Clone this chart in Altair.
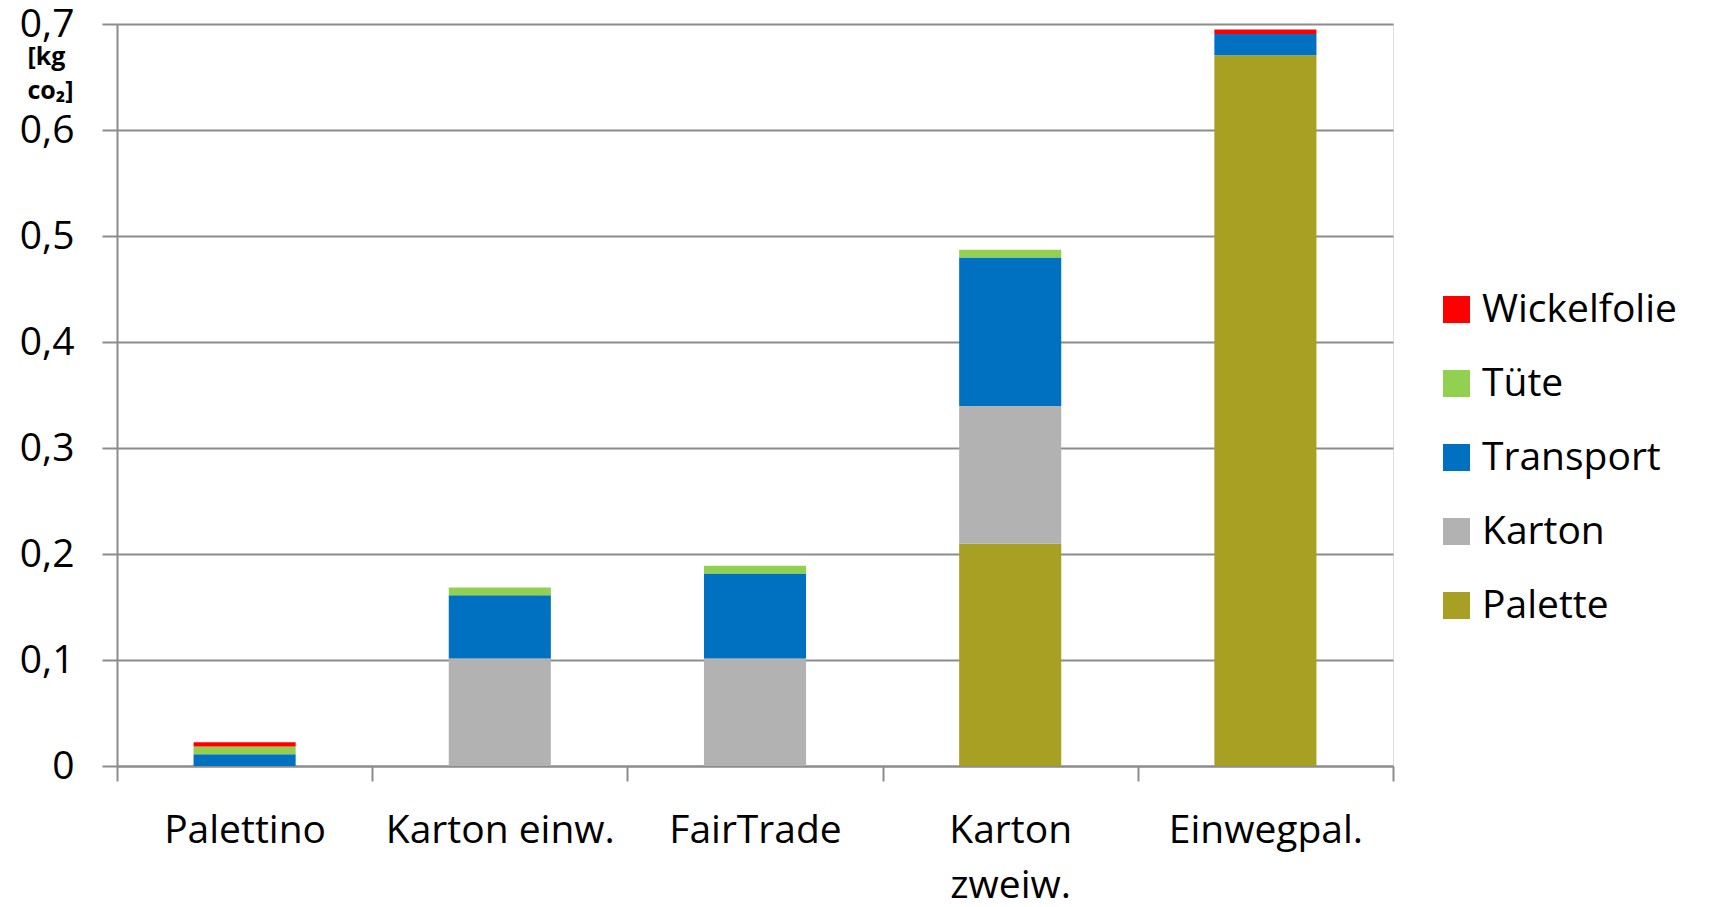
import altair as alt
import pandas as pd

categories = ["Palettino", "Karton einw.", "FairTrade", "Karton zweiw.", "Einwegpal."]
series = ["Palette", "Karton", "Transport", "Tüte", "Wickelfolie"]
palette = [0.0, 0.0, 0.0, 0.2096, 0.6705]
karton = [0.0, 0.1015, 0.1015, 0.130, 0.0]
transport = [0.011, 0.0595, 0.080, 0.140, 0.020]
tuete = [0.0075, 0.0073, 0.0073, 0.0075, 0.0]
wickelfolie = [0.004, 0.0, 0.0, 0.0, 0.0044]
colors = {"Wickelfolie": "#FF0000", "Tüte": "#92D050", "Transport": "#0070C0",
          "Karton": "#B2B2B2", "Palette": "#A8A022"}
legend_order = ["Wickelfolie", "Tüte", "Transport", "Karton", "Palette"]

values = [palette, karton, transport, tuete, wickelfolie]
rows = []
for si, (name, vals) in enumerate(zip(series, values)):
    for c, v in zip(categories, vals):
        if v > 0:
            rows.append({"Kategorie": c, "Komponente": name, "Wert": v, "idx": si})
df = pd.DataFrame(rows)

FONT = "Open Sans"
FS = 39
GRID = "#8C8C8C"

chart = alt.Chart(df).mark_bar(width=alt.RelativeBandSize(0.4)).encode(
    x=alt.X("Kategorie:N", sort=categories,
            scale=alt.Scale(paddingInner=0, paddingOuter=0),
            axis=alt.Axis(title=None, labelAngle=0, tickBand="extent",
                          labelFontSize=FS, labelFont=FONT, labelColor="#000000",
                          labelPadding=30, labelLineHeight=55, labelLimit=400,
                          labelExpr="datum.label == 'Karton zweiw.' ? ['Karton', 'zweiw.'] : datum.label",
                          domainColor=GRID, domainWidth=2, tickColor=GRID, tickWidth=2,
                          tickSize=15, grid=False)),
    y=alt.Y("Wert:Q", stack="zero",
            scale=alt.Scale(domain=[0, 0.7], nice=False),
            axis=alt.Axis(title=["[kg", "co₂]"], titleAngle=0, titleAlign="left",
                          titleBaseline="alphabetic", titleX=-90, titleY=40,
                          titleFont=FONT, titleFontSize=25, titleFontWeight="bold",
                          titleLineHeight=34, titleColor="#000000",
                          values=[0, 0.1, 0.2, 0.3, 0.4, 0.5, 0.6, 0.7],
                          labelExpr="datum.value == 0 ? '0' : replace(format(datum.value, '.1f'), '.', ',')",
                          labelFontSize=FS, labelFont=FONT, labelColor="#000000",
                          labelPadding=28, domainColor=GRID, domainWidth=2,
                          tickColor=GRID, tickWidth=2, tickSize=15,
                          gridColor=GRID, gridWidth=2)),
    color=alt.Color("Komponente:N",
                    scale=alt.Scale(domain=legend_order,
                                    range=[colors[k] for k in legend_order]),
                    legend=alt.Legend(title=None, orient="none", legendX=1320, legendY=266,
                                      symbolType="square", symbolSize=729,
                                      symbolStrokeWidth=0, labelFontSize=FS,
                                      labelFont=FONT, labelColor="#000000",
                                      labelOffset=6, rowPadding=34,
                                      labelLimit=400)),
    order=alt.Order("idx:Q", sort="ascending"),
).properties(
    width=1276, height=742,
    autosize=alt.AutoSizeParams(type="none"),
    padding={"left": 117, "top": 24, "right": 324, "bottom": 141},
).configure_view(strokeWidth=0, stroke="transparent").configure(background="#FFFFFF")

chart.save("out.html", embed_options={"renderer": "svg", "actions": False})
